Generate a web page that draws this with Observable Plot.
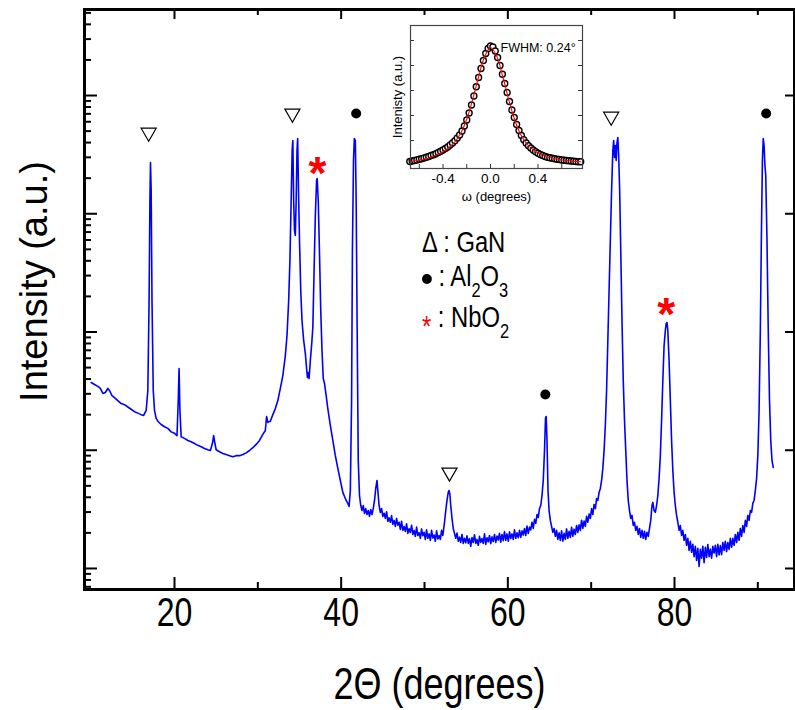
<!DOCTYPE html>
<html><head><meta charset="utf-8">
<script src="https://cdn.jsdelivr.net/npm/d3@7"></script>
<script src="https://cdn.jsdelivr.net/npm/@observablehq/plot@0.6"></script>
<style>
body{margin:0;background:#fff;}
#wrap{position:relative;width:795px;height:710px;font-family:"Liberation Sans",Arial,sans-serif;}
#inset{position:absolute;left:380px;top:10px;}
.leg{position:absolute;left:422px;font-family:"Liberation Sans",Arial,sans-serif;font-size:29px;color:#000;line-height:1;white-space:pre;transform:scaleX(0.82);transform-origin:0 0;}
.sub{font-size:20px;position:relative;top:11px;}
.ldot{display:inline-block;width:12px;height:10px;border-radius:50%;background:#000;vertical-align:2px;}
</style></head>
<body><div id="wrap"></div>
<script>
// XRD scan: [2theta (deg), intensity (a.u.)]
const scan = [[10.0,374],[10.4,360],[10.8,347],[11.1,333],[11.4,302],[11.7,308],[12.0,333],[12.2,320],[12.5,290],[12.8,279],[13.2,263],[13.6,248],[14.0,243],[14.4,232],[14.8,222],[15.2,212],[15.6,206],[16.0,200],[16.3,197],[16.6,217],[16.8,320],[16.95,1846],[17.05,12940],[17.12,27100],[17.2,15730],[17.3,1846],[17.45,320],[17.6,217],[17.8,186],[18.0,176],[18.4,165],[18.8,158],[19.2,153],[19.6,143],[20.0,139],[20.3,133],[20.45,263],[20.55,491],[20.65,217],[20.8,130],[21.2,126],[21.6,121],[22.0,118],[22.4,114],[22.8,110],[23.2,107],[23.6,103.5],[24.0,101],[24.3,99.5],[24.55,114],[24.7,133],[24.85,114],[25.0,101],[25.4,97],[25.8,94],[26.2,92],[26.6,90],[27.0,88],[27.4,90],[27.8,90],[28.2,92],[28.6,95],[29.0,99.5],[29.4,105],[29.8,112],[30.2,121],[30.6,136],[30.9,147],[31.05,193],[31.2,172],[31.5,176],[31.8,200],[32.1,225],[32.4,263],[32.7,333],[33.0,428],[33.3,632],[33.5,934],[33.7,1846],[33.85,4027],[34.0,12940],[34.12,34300],[34.2,41600],[34.3,12940],[34.4,7215],[34.5,6550],[34.6,12940],[34.7,34300],[34.78,43250],[34.88,15730],[35.0,5940],[35.15,2244],[35.3,1250],[35.5,848],[35.7,658],[35.85,491],[35.95,412],[36.05,455],[36.15,404],[36.3,574],[36.45,769],[36.6,1091],[36.75,3313],[36.9,9660],[37.05,19100],[37.12,19860],[37.25,12940],[37.4,4613],[37.55,1520],[37.7,698],[37.85,404],[38.0,367],[38.2,290],[38.4,225],[38.7,162],[39.0,121],[39.3,90],[39.6,70.2],[39.9,55.5],[40.2,44],[40.4,40.6],[40.6,37.6],[40.8,35.5],[40.95,33.5],[41.1,45.7],[41.25,263],[41.35,4890],[41.48,28200],[41.58,43250],[41.7,41600],[41.8,12940],[41.92,1030],[42.05,82],[42.2,41.4],[42.35,34.1],[42.5,30.9],
[42.65,34.1],[42.8,29.2],[42.95,32.1],[43.1,28.6],[43.25,30.9],[43.4,27.6],[43.55,31.5],[43.7,28.6],[43.85,32.1],[44.0,37.6],[44.15,47.5],[44.3,55.5],[44.4,45.7],[44.55,34.1],[44.7,29.8],[44.85,32.1],[45.0,27.6],[45.15,29.3],[45.3,26.5],[45.45,30.2],[45.6,25],[45.75,26.8],[45.9,24.6],[46.05,28],[46.2,23.6],[46.35,25.5],[46.5,22.7],[46.65,26.5],[46.8,23.2],[46.95,24.6],[47.1,21.4],[47.25,25.1],[47.4,21],[47.55,22.6],[47.7,20.6],[47.85,23.9],[48.0,19.8],[48.15,21.7],[48.3,20.2],[48.45,23.2],[48.6,19.4],[48.75,21.0],[48.9,18.7],[49.05,22.4],[49.2,19.0],[49.35,20.1],[49.5,18],[49.65,21.6],[49.8,18.9],[49.95,20.2],[50.1,17.6],[50.25,21.2],[50.4,18],[50.55,19.6],[50.7,17.3],[50.85,21.0],[51.0,18.1],[51.15,19.2],[51.3,17],[51.45,20.8],[51.6,17.8],[51.75,19.0],[51.9,17.6],[52.05,21],[52.2,19],[52.4,24.6],[52.55,30.9],[52.7,37.6],[52.85,44],[52.95,45.7],[53.05,42.2],[53.15,34.1],[53.3,26.5],[53.45,21.8],[53.6,19.8],[53.75,18],[53.9,19.9],[54.05,17],[54.2,18.4],[54.35,16.6],[54.5,19.4],[54.65,16.3],[54.8,18.0],[54.95,16.5],[55.1,18.9],[55.25,16.3],[55.4,17.9],[55.55,15.4],[55.7,18.3],[55.85,16.6],[56.0,19.3],[56.15,16.3],[56.3,17.6],[56.45,15.7],[56.6,18.7],[56.75,16.6],[56.9,17.9],[57.05,16.3],[57.2,19.6],[57.35,16],[57.5,18.2],[57.65,16.8],[57.8,19],[57.95,16.2],[58.1,18.5],[58.25,16.9],[58.4,19.4],[58.55,16.6],[58.7,18.8],[58.85,17.4],[59.0,19.8],[59.15,16.7],[59.3,19.4],[59.45,17.2],[59.6,20.5],[59.75,17.3],[59.9,19.6],[60.05,17],[60.2,20.4],[60.35,17.9],[60.5,19.6],[60.65,17.6],[60.8,21.2],[60.95,18],[61.1,20.0],[61.25,18.2],[61.4,21],[61.55,18.3],[61.7,20.8],[61.85,19.2],[62.0,21.8],[62.15,19],[62.3,22.8],[62.45,19.8],[62.6,22.4],[62.75,21.2],[62.9,24.6],[63.05,21.8],[63.2,26],[63.35,24.1],[63.5,28.6],[63.65,27],[63.8,32.1],[63.95,34.1],[64.1,41.4],[64.25,55.5],[64.4,99.5],[64.52,186],[64.6,193],[64.7,121],[64.82,45.7],[64.95,30.9],[65.1,25.5],[65.25,22.7],[65.4,20.2],[65.55,21.8],[65.7,18.7],[65.85,21],[66.0,17.6],[66.15,20.0],[66.3,17.3],[66.45,20.8],[66.6,17],[66.75,19.8],[66.9,17.6],[67.05,21.6],[67.2,18],[67.35,20.6],[67.5,18.3],[67.65,22.3],[67.8,18.7],[67.95,21.5],[68.1,19.4],[68.25,23.1],[68.4,20.2],[68.55,23.4],[68.7,21],[68.85,25.6],[69.0,21.8],[69.15,25.2],[69.3,22.7],[69.45,27.6],[69.6,24.6],[69.75,28.9],[69.9,26.5],[70.05,32.1],[70.2,28.6],[70.35,34.8],[70.5,32.1],[70.65,39],[70.8,37.6],[70.95,44],[71.1,47.5],[71.25,55.5],[71.4,70.2],[71.55,99.5],[71.7,162],[71.85,320],[72.0,848],[72.15,2244],[72.3,5940],[72.45,15730],[72.6,34300],[72.7,41600],[72.8,29900],[72.9,37760],[73.0,28200],[73.1,40060],[73.2,44200],[73.3,31100],[73.42,15730],[73.55,4890],[73.7,1250],[73.85,389],[74.0,179],[74.15,99.5],[74.3,55.5],[74.45,37.6],[74.6,30.9],[74.75,26.5],[74.9,28.1],[75.05,23.1],[75.2,24.6],[75.35,21],[75.5,22.7],[75.65,19.4],[75.8,21.8],[75.95,18.3],[76.1,21],[76.25,18],[76.4,20.6],[76.55,17.6],[76.7,20.2],[76.85,18.7],[77.0,21.8],[77.15,25.5],[77.3,34.1],[77.4,36.2],[77.55,30.9],[77.7,29.8],[77.85,34.1],[78.0,41.4],[78.15,57.7],[78.3,90],[78.45,179],[78.6,389],[78.75,769],[78.9,1030],[79.0,1180],[79.1,1202],[79.2,1030],[79.35,574],[79.5,263],[79.65,121],[79.8,67.5],[79.95,44],[80.1,34.1],[80.25,28.1],[80.4,24.6],[80.55,21],[80.7,23.1],[80.85,19],[81.0,21],[81.15,17.3],[81.3,19.4],[81.45,15.7],[81.6,18],[81.75,14.2],[81.9,17],[82.05,13.7],[82.2,16],[82.35,12.6],[82.5,15.4],[82.65,11.7],[82.8,14.8],[82.95,10.4],[83.1,14.5],[83.25,12.2],[83.4,15.4],[83.55,11.2],[83.7,15.1],[83.85,12.4],[84.0,15.9],[84.15,12.6],[84.3,14.6],[84.45,12.2],[84.6,15.4],[84.75,13.5],[84.9,15.7],[85.05,12.6],[85.2,16],[85.35,13.0],[85.5,15.6],[85.65,13.1],[85.8,16.6],[85.95,14.2],[86.1,17],[86.25,13.9],[86.4,16.6],[86.55,14.5],[86.7,18],[86.85,15.1],[87.0,18.0],[87.15,15.7],[87.3,19.4],[87.45,16.6],[87.6,20.2],[87.75,17.3],[87.9,21.8],[88.05,18.7],[88.2,23.1],[88.35,20.2],[88.5,25.5],[88.65,22.7],[88.8,28.1],[88.95,25.5],[89.1,30.9],[89.25,29.8],[89.4,35.5],[89.55,37.6],[89.7,45.7],[89.85,57.7],[90.0,90],[90.15,217],[90.3,1030],[90.42,5940],[90.55,28200],[90.65,43250],[90.75,37760],[90.85,25600],[90.95,21000],[91.1,5940],[91.25,1030],[91.4,263],[91.55,121],[91.7,82],[91.85,71.5]];

// Axis tick values
const xTickMajor = [20, 40, 60, 80];
const xTickMinor = [30, 50, 70, 90];
const yTickMajor = [10, 100, 1000, 10000, 100000];
const yTickMinor = [7,8,9,20,30,40,50,60,70,80,90,200,300,400,500,600,700,800,900,2000,3000,4000,5000,6000,7000,8000,9000,20000,30000,40000,50000,60000,70000,80000,90000,200000,300000,400000,500000];

// Peak markers
const ganX = [16.9, 34.15, 53.0, 72.4];
const ganY = [48600, 70500, 64.9, 66400];
const al2o3X = [41.8, 64.5, 91.0];
const al2o3Y = [70500, 296, 70500];
const nbo2X = [37.15, 79.0];
const nbo2Y = [25100, 1610];

// Inset: rocking curve (omega, intensity a.u.) and fit
const rockOmega = [-0.68,-0.66,-0.64,-0.62,-0.60,-0.58,-0.56,-0.54,-0.52,-0.50,-0.48,-0.46,-0.44,-0.42,-0.40,-0.38,-0.36,-0.34,-0.32,-0.30,-0.28,-0.26,-0.24,-0.22,-0.20,-0.18,-0.16,-0.14,-0.12,-0.10,-0.08,-0.06,-0.04,-0.02,0.00,0.02,0.04,0.06,0.08,0.10,0.12,0.14,0.16,0.18,0.20,0.22,0.24,0.26,0.28,0.30,0.32,0.34,0.36,0.38,0.40,0.42,0.44,0.46,0.48,0.50,0.52,0.54,0.56,0.58,0.60,0.62,0.64,0.66,0.68,0.70,0.72,0.74,0.76];
const rockInt = [0.16,0.18,0.20,0.22,0.25,0.27,0.30,0.33,0.36,0.40,0.43,0.47,0.52,0.57,0.62,0.68,0.74,0.82,0.90,0.99,1.10,1.22,1.38,1.58,1.82,2.10,2.42,2.78,3.15,3.52,3.88,4.20,4.48,4.68,4.78,4.74,4.58,4.32,4.00,3.65,3.28,2.92,2.56,2.22,1.92,1.64,1.40,1.20,1.03,0.90,0.79,0.70,0.62,0.55,0.49,0.44,0.40,0.36,0.33,0.31,0.29,0.27,0.25,0.24,0.22,0.21,0.20,0.19,0.18,0.17,0.16,0.15,0.15];
const fitOmega = [-0.68,-0.6,-0.5,-0.4,-0.35,-0.3,-0.25,-0.2,-0.15,-0.1,-0.05,0,0.05,0.1,0.15,0.2,0.25,0.3,0.35,0.4,0.5,0.6,0.7,0.76];
const fitInt = [0.15,0.22,0.33,0.55,0.72,0.95,1.30,1.85,2.65,3.55,4.35,4.72,4.40,3.62,2.70,1.88,1.28,0.90,0.66,0.50,0.32,0.22,0.17,0.15];
const insetXLabels = [-0.4, 0, 0.4];
const insetXTicks = [-0.6, -0.4, -0.2, 0, 0.2, 0.4, 0.6];
const insetYTicks = [1, 2, 3, 4, 5];

const W = 795, H = 710, mt = 9, mb = 121, ml = 84, mr = 1;
const fw = W - ml - mr, fh = H - mt - mb;
const sans = "Liberation Sans, Arial, sans-serif";

const main = Plot.plot({
  width: W, height: H, marginTop: mt, marginBottom: mb, marginLeft: ml, marginRight: mr,
  style: {background: "transparent", fontFamily: sans, color: "#000"},
  x: {domain: [9.2, 94.4]},
  y: {type: "log", domain: [6.64, 5.34e5], axis: null},
  marks: [
    Plot.line(scan, {x: d => d[0], y: d => d[1], stroke: "#0000ff", strokeWidth: 1.6}),
    Plot.tickX(xTickMajor, {x: d => d, insetTop: fh - 12, stroke: "#000", strokeWidth: 2}),
    Plot.tickX(xTickMinor, {x: d => d, insetTop: fh - 7, stroke: "#000", strokeWidth: 2}),
    Plot.tickX(xTickMajor, {x: d => d, insetBottom: fh - 10, stroke: "#000", strokeWidth: 2}),
    Plot.tickX(xTickMinor, {x: d => d, insetBottom: fh - 6, stroke: "#000", strokeWidth: 2}),
    Plot.tickY(yTickMajor, {y: d => d, insetRight: fw - 13, stroke: "#000", strokeWidth: 2}),
    Plot.tickY(yTickMinor, {y: d => d, insetRight: fw - 7, stroke: "#000", strokeWidth: 2}),
    Plot.tickY(yTickMajor, {y: d => d, insetLeft: fw - 9, stroke: "#000", strokeWidth: 2}),
    Plot.frame({stroke: "#000", strokeWidth: 3}),
    Plot.axisX(xTickMajor, {className: "narrowtxt", tickSize: 0, tickPadding: 8, fontSize: 40, label: null, tickFormat: d => String(d)}),
    Plot.text(["2Θ (degrees)"], {className: "narrowtxt", text: d => d, frameAnchor: "bottom", lineAnchor: "middle", textAnchor: "middle", dy: 95, fontSize: 45}),
    Plot.text(["Intensity (a.u.)"], {text: d => d, frameAnchor: "left", textAnchor: "middle", lineAnchor: "middle", dx: -50, dy: -18, rotate: -90, fontSize: 38}),
    Plot.dot(ganX.map((x, i) => ({x, y: ganY[i]})), {x: "x", y: "y", symbol: "triangle", rotate: 180, r: 5.6, stroke: "#000", strokeWidth: 1.2, fill: "none"}),
    Plot.dot(al2o3X.map((x, i) => ({x, y: al2o3Y[i]})), {x: "x", y: "y", r: 5, fill: "#000", stroke: "none"}),
    Plot.text(nbo2X.map((x, i) => ({x, y: nbo2Y[i]})), {x: "x", y: "y", text: () => "*", fill: "#ff0000", fontSize: 46, fontWeight: "bold", dy: 8})
  ]
});

const iW = 205, iH = 195, iml = 30, imr = 3, imt = 15, imb = 37;
const ifw = iW - iml - imr, ifh = iH - imt - imb;
const inset = Plot.plot({
  width: iW, height: iH, marginLeft: iml, marginRight: imr, marginTop: imt, marginBottom: imb,
  style: {background: "transparent", fontFamily: sans, color: "#000"},
  x: {domain: [-0.674, 0.775]},
  y: {domain: [-0.12, 5.6], axis: null},
  marks: [
    Plot.dot(rockOmega.map((x, i) => ({x, y: rockInt[i]})), {x: "x", y: "y", r: 3, stroke: "#000", strokeWidth: 1.35, fill: "white"}),
    Plot.line(fitOmega.map((x, i) => ({x, y: fitInt[i]})), {x: "x", y: "y", stroke: "#ff0000", strokeWidth: 1.1, curve: "catmull-rom"}),
    Plot.tickX(insetXTicks, {x: d => d, insetTop: ifh - 4, stroke: "#333", strokeWidth: 1}),
    Plot.tickY(insetYTicks, {y: d => d, insetRight: ifw - 4, stroke: "#333", strokeWidth: 1}),
    Plot.tickY(insetYTicks, {y: d => d, insetLeft: ifw - 4, stroke: "#333", strokeWidth: 1}),
    Plot.frame({stroke: "#444", strokeWidth: 1.2}),
    Plot.axisX(insetXLabels, {tickSize: 0, tickPadding: 5, fontSize: 13.5, label: null, tickFormat: d => d.toFixed(1)}),
    Plot.text(["ω (degrees)"], {text: d => d, frameAnchor: "bottom", lineAnchor: "middle", textAnchor: "middle", dy: 28, fontSize: 13}),
    Plot.text(["Intenisty (a.u.)"], {text: d => d, frameAnchor: "left", textAnchor: "middle", lineAnchor: "middle", dx: -13, rotate: -90, fontSize: 13}),
    Plot.text(["FWHM: 0.24°"], {text: d => d, frameAnchor: "top-left", dx: 90, dy: 18, textAnchor: "start", fontSize: 12.5})
  ]
});
inset.id = "inset";

const wrap = document.getElementById("wrap");
wrap.appendChild(main);
wrap.appendChild(inset);

// condense horizontal main-axis text (reference uses tall, narrow lettering)
main.querySelectorAll(".narrowtxt text").forEach(t => {
  const L = t.getComputedTextLength();
  if (L > 0) {
    t.setAttribute("textLength", (L * 0.8).toFixed(1));
    t.setAttribute("lengthAdjust", "spacingAndGlyphs");
  }
});

const legendRows = [
  {top: 228, html: "Δ : GaN"},
  {top: 262, html: "<span class='ldot'></span> : Al<span class='sub'>2</span>O<span class='sub'>3</span>"},
  {top: 303, html: "<span style='color:#ff0000;position:relative;top:9px'>*</span> : NbO<span class='sub'>2</span>"}
];
for (const r of legendRows) {
  const d = document.createElement("div");
  d.className = "leg";
  d.style.top = r.top + "px";
  d.innerHTML = r.html;
  wrap.appendChild(d);
}
</script>
</body></html>
